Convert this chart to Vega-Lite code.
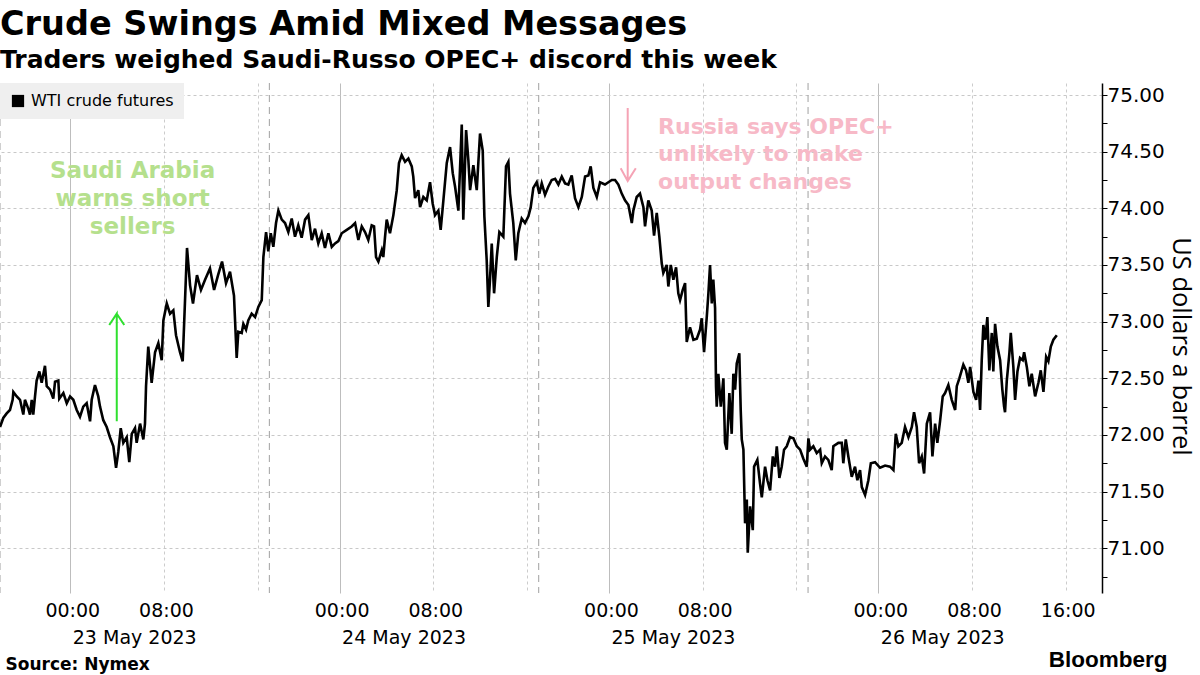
{
  "$schema": "https://vega.github.io/schema/vega-lite/v6.json",
  "width": 1102,
  "height": 510,
  "autosize": {"type": "none"},
  "padding": {"left": 0, "top": 83, "right": 98, "bottom": 82},
  "background": "#ffffff",
  "config": {"view": {"stroke": null}},
  "title": {
    "text": "Crude Swings Amid Mixed Messages",
    "subtitle": "Traders weighed Saudi-Russo OPEC+ discord this week",
    "anchor": "start", "frame": "group",
    "font": "DejaVu Sans", "fontSize": 33.5, "fontWeight": "bold", "color": "#000000",
    "subtitleFont": "DejaVu Sans", "subtitleFontSize": 25, "subtitleFontWeight": "bold", "subtitleColor": "#000000",
    "subtitlePadding": 5, "offset": 9
  },
  "datasets": {
    "wti": [
{"h":0,"p":72.07},{"h":0.28,"p":72.15},{"h":0.57,"p":72.19},{"h":0.85,"p":72.22},{"h":1.08,"p":72.31},{"h":1.14,"p":72.38},{"h":1.43,"p":72.34},{"h":1.71,"p":72.31},{"h":1.99,"p":72.18},{"h":2.13,"p":72.31},{"h":2.42,"p":72.23},{"h":2.56,"p":72.18},{"h":2.71,"p":72.31},{"h":2.84,"p":72.18},{"h":2.99,"p":72.34},{"h":3.13,"p":72.48},{"h":3.36,"p":72.56},{"h":3.56,"p":72.46},{"h":3.84,"p":72.61},{"h":3.99,"p":72.43},{"h":4.27,"p":72.40},{"h":4.55,"p":72.32},{"h":4.70,"p":72.47},{"h":4.98,"p":72.48},{"h":5.06,"p":72.32},{"h":5.41,"p":72.37},{"h":5.70,"p":72.28},{"h":5.98,"p":72.34},{"h":6.26,"p":72.31},{"h":6.55,"p":72.22},{"h":6.83,"p":72.16},{"h":7.11,"p":72.25},{"h":7.40,"p":72.28},{"h":7.69,"p":72.12},{"h":7.83,"p":72.31},{"h":8.11,"p":72.44},{"h":8.39,"p":72.34},{"h":8.54,"p":72.25},{"h":8.82,"p":72.13},{"h":9.11,"p":72.07},{"h":9.39,"p":71.98},{"h":9.68,"p":71.90},{"h":9.91,"p":71.71},{"h":10.10,"p":71.85},{"h":10.31,"p":72.06},{"h":10.53,"p":71.93},{"h":10.82,"p":71.98},{"h":11.04,"p":71.76},{"h":11.25,"p":72.01},{"h":11.53,"p":72.06},{"h":11.67,"p":71.93},{"h":11.96,"p":72.10},{"h":12.24,"p":71.96},{"h":12.38,"p":72.10},{"h":12.47,"p":72.43},{"h":12.66,"p":72.78},{"h":12.95,"p":72.46},{"h":13.24,"p":72.73},{"h":13.52,"p":72.81},{"h":13.81,"p":72.66},{"h":13.95,"p":73.01},{"h":14.24,"p":73.16},{"h":14.52,"p":73.07},{"h":14.80,"p":73.10},{"h":15.03,"p":72.88},{"h":15.37,"p":72.73},{"h":15.60,"p":72.65},{"h":15.80,"p":73.19},{"h":15.97,"p":73.65},{"h":16.23,"p":73.32},{"h":16.48,"p":73.16},{"h":16.82,"p":73.41},{"h":17.16,"p":73.28},{"h":17.51,"p":73.37},{"h":17.93,"p":73.47},{"h":18.28,"p":73.28},{"h":18.62,"p":73.41},{"h":18.96,"p":73.53},{"h":19.30,"p":73.34},{"h":19.64,"p":73.44},{"h":19.98,"p":73.23},{"h":20.21,"p":72.68},{"h":20.35,"p":72.91},{"h":20.64,"p":72.90},{"h":20.78,"p":72.98},{"h":21.01,"p":72.93},{"h":21.20,"p":73.01},{"h":21.49,"p":73.07},{"h":21.78,"p":73.04},{"h":22.06,"p":73.13},{"h":22.35,"p":73.19},{"h":22.49,"p":73.57},{"h":22.72,"p":73.79},{"h":22.91,"p":73.62},{"h":23.12,"p":73.78},{"h":23.34,"p":73.66},{"h":23.57,"p":73.87},{"h":23.77,"p":73.98},{"h":24.06,"p":73.90},{"h":24.34,"p":73.87},{"h":24.62,"p":73.79},{"h":24.91,"p":73.91},{"h":25.19,"p":73.75},{"h":25.47,"p":73.85},{"h":25.76,"p":73.74},{"h":26.05,"p":73.90},{"h":26.33,"p":73.94},{"h":26.62,"p":73.72},{"h":26.90,"p":73.82},{"h":27.18,"p":73.69},{"h":27.47,"p":73.78},{"h":27.75,"p":73.65},{"h":28.04,"p":73.78},{"h":28.33,"p":73.66},{"h":28.61,"p":73.69},{"h":28.89,"p":73.71},{"h":29.18,"p":73.78},{"h":29.61,"p":73.81},{"h":30.03,"p":73.84},{"h":30.32,"p":73.87},{"h":30.60,"p":73.72},{"h":30.89,"p":73.84},{"h":31.17,"p":73.79},{"h":31.45,"p":73.72},{"h":31.74,"p":73.85},{"h":31.94,"p":73.84},{"h":32.11,"p":73.57},{"h":32.31,"p":73.53},{"h":32.60,"p":73.63},{"h":32.73,"p":73.57},{"h":32.88,"p":73.75},{"h":33.02,"p":73.90},{"h":33.30,"p":73.78},{"h":33.59,"p":73.94},{"h":33.88,"p":74.16},{"h":34.07,"p":74.40},{"h":34.30,"p":74.47},{"h":34.59,"p":74.41},{"h":34.87,"p":74.44},{"h":35.16,"p":74.37},{"h":35.29,"p":74.28},{"h":35.44,"p":74.09},{"h":35.72,"p":74.16},{"h":35.87,"p":74.01},{"h":36.15,"p":74.10},{"h":36.44,"p":74.07},{"h":36.72,"p":74.23},{"h":36.95,"p":74.04},{"h":37.15,"p":73.94},{"h":37.43,"p":73.98},{"h":37.63,"p":73.81},{"h":37.86,"p":74.07},{"h":38.15,"p":74.40},{"h":38.43,"p":74.54},{"h":38.66,"p":74.31},{"h":38.86,"p":74.19},{"h":39.14,"p":73.98},{"h":39.43,"p":74.74},{"h":39.56,"p":73.90},{"h":39.80,"p":74.69},{"h":39.99,"p":74.43},{"h":40.14,"p":74.16},{"h":40.42,"p":74.38},{"h":40.71,"p":74.16},{"h":40.99,"p":74.66},{"h":41.22,"p":74.51},{"h":41.36,"p":73.93},{"h":41.56,"p":73.54},{"h":41.70,"p":73.13},{"h":41.84,"p":73.37},{"h":41.99,"p":73.69},{"h":42.19,"p":73.25},{"h":42.42,"p":73.57},{"h":42.64,"p":73.79},{"h":42.98,"p":73.75},{"h":43.21,"p":74.37},{"h":43.41,"p":74.41},{"h":43.55,"p":74.13},{"h":43.83,"p":73.87},{"h":44.04,"p":73.54},{"h":44.26,"p":73.78},{"h":44.55,"p":73.91},{"h":44.83,"p":73.87},{"h":45.12,"p":73.93},{"h":45.32,"p":74.01},{"h":45.54,"p":74.18},{"h":45.83,"p":74.23},{"h":46.05,"p":74.13},{"h":46.26,"p":74.22},{"h":46.54,"p":74.12},{"h":46.82,"p":74.19},{"h":47.11,"p":74.25},{"h":47.40,"p":74.26},{"h":47.68,"p":74.21},{"h":47.97,"p":74.28},{"h":48.25,"p":74.22},{"h":48.53,"p":74.21},{"h":48.82,"p":74.29},{"h":49.10,"p":74.09},{"h":49.39,"p":74.01},{"h":49.68,"p":74.10},{"h":49.96,"p":74.28},{"h":50.24,"p":74.29},{"h":50.44,"p":74.37},{"h":50.67,"p":74.18},{"h":50.96,"p":74.10},{"h":51.24,"p":74.23},{"h":51.66,"p":74.21},{"h":51.95,"p":74.23},{"h":52.24,"p":74.25},{"h":52.52,"p":74.25},{"h":52.80,"p":74.21},{"h":53.09,"p":74.13},{"h":53.37,"p":74.07},{"h":53.66,"p":74.03},{"h":53.95,"p":73.87},{"h":54.08,"p":73.98},{"h":54.37,"p":74.10},{"h":54.65,"p":74.13},{"h":54.94,"p":74.01},{"h":55.08,"p":73.84},{"h":55.36,"p":74.07},{"h":55.65,"p":73.98},{"h":55.85,"p":73.76},{"h":56.08,"p":73.96},{"h":56.30,"p":73.75},{"h":56.51,"p":73.51},{"h":56.64,"p":73.43},{"h":56.93,"p":73.50},{"h":57.07,"p":73.31},{"h":57.28,"p":73.50},{"h":57.50,"p":73.37},{"h":57.73,"p":73.48},{"h":57.92,"p":73.25},{"h":58.07,"p":73.19},{"h":58.30,"p":73.28},{"h":58.50,"p":73.34},{"h":58.64,"p":72.82},{"h":58.92,"p":72.95},{"h":59.21,"p":72.84},{"h":59.50,"p":72.85},{"h":59.78,"p":72.93},{"h":59.92,"p":73.03},{"h":60.12,"p":72.73},{"h":60.35,"p":73.04},{"h":60.49,"p":73.25},{"h":60.63,"p":73.50},{"h":60.78,"p":73.16},{"h":60.91,"p":73.37},{"h":61.06,"p":73.12},{"h":61.14,"p":72.43},{"h":61.20,"p":72.25},{"h":61.34,"p":72.54},{"h":61.55,"p":72.25},{"h":61.77,"p":72.50},{"h":61.91,"p":71.93},{"h":62.06,"p":71.87},{"h":62.28,"p":72.37},{"h":62.48,"p":72.01},{"h":62.62,"p":72.54},{"h":62.77,"p":72.40},{"h":62.91,"p":72.63},{"h":63.13,"p":72.72},{"h":63.25,"p":72.22},{"h":63.34,"p":71.96},{"h":63.48,"p":71.87},{"h":63.62,"p":71.22},{"h":63.77,"p":71.43},{"h":63.85,"p":70.96},{"h":64.05,"p":71.37},{"h":64.28,"p":71.16},{"h":64.39,"p":71.72},{"h":64.67,"p":71.78},{"h":64.90,"p":71.57},{"h":65.05,"p":71.45},{"h":65.33,"p":71.72},{"h":65.53,"p":71.60},{"h":65.76,"p":71.51},{"h":65.99,"p":71.81},{"h":66.18,"p":71.72},{"h":66.33,"p":71.90},{"h":66.55,"p":71.62},{"h":66.75,"p":71.72},{"h":66.95,"p":71.87},{"h":67.18,"p":71.90},{"h":67.46,"p":71.98},{"h":67.75,"p":71.97},{"h":68.04,"p":71.90},{"h":68.32,"p":71.87},{"h":68.60,"p":71.79},{"h":68.89,"p":71.72},{"h":69.03,"p":71.97},{"h":69.17,"p":71.87},{"h":69.45,"p":71.90},{"h":69.74,"p":71.84},{"h":70.03,"p":71.87},{"h":70.17,"p":71.75},{"h":70.45,"p":71.81},{"h":70.73,"p":71.78},{"h":71.02,"p":71.69},{"h":71.16,"p":71.90},{"h":71.59,"p":71.93},{"h":71.88,"p":71.93},{"h":72.01,"p":71.75},{"h":72.22,"p":71.96},{"h":72.44,"p":71.81},{"h":72.73,"p":71.63},{"h":73.01,"p":71.72},{"h":73.21,"p":71.60},{"h":73.44,"p":71.69},{"h":73.59,"p":71.54},{"h":73.87,"p":71.47},{"h":74.15,"p":71.60},{"h":74.36,"p":71.75},{"h":74.72,"p":71.76},{"h":75.15,"p":71.71},{"h":75.58,"p":71.73},{"h":76.00,"p":71.72},{"h":76.29,"p":71.69},{"h":76.49,"p":72.01},{"h":76.71,"p":71.90},{"h":77.00,"p":71.93},{"h":77.28,"p":72.07},{"h":77.57,"p":71.98},{"h":77.86,"p":72.07},{"h":78.05,"p":72.20},{"h":78.28,"p":72.07},{"h":78.48,"p":71.75},{"h":78.71,"p":71.81},{"h":78.91,"p":71.66},{"h":79.14,"p":72.10},{"h":79.42,"p":72.20},{"h":79.62,"p":71.81},{"h":79.85,"p":72.10},{"h":80.04,"p":71.93},{"h":80.27,"p":72.12},{"h":80.50,"p":72.34},{"h":80.70,"p":72.37},{"h":80.98,"p":72.44},{"h":81.27,"p":72.31},{"h":81.56,"p":72.22},{"h":81.70,"p":72.43},{"h":81.92,"p":72.50},{"h":82.26,"p":72.62},{"h":82.49,"p":72.57},{"h":82.69,"p":72.46},{"h":82.84,"p":72.60},{"h":83.12,"p":72.38},{"h":83.35,"p":72.31},{"h":83.55,"p":72.48},{"h":83.69,"p":72.22},{"h":83.83,"p":72.66},{"h":83.97,"p":72.97},{"h":84.14,"p":72.84},{"h":84.31,"p":73.04},{"h":84.48,"p":72.57},{"h":84.69,"p":72.90},{"h":84.82,"p":72.56},{"h":84.97,"p":72.98},{"h":85.17,"p":72.78},{"h":85.40,"p":72.66},{"h":85.59,"p":72.40},{"h":85.74,"p":72.25},{"h":85.82,"p":72.20},{"h":85.97,"p":72.48},{"h":86.19,"p":72.72},{"h":86.31,"p":72.90},{"h":86.53,"p":72.60},{"h":86.68,"p":72.31},{"h":86.88,"p":72.56},{"h":87.10,"p":72.68},{"h":87.33,"p":72.66},{"h":87.45,"p":72.73},{"h":87.68,"p":72.60},{"h":87.90,"p":72.43},{"h":88.10,"p":72.54},{"h":88.39,"p":72.34},{"h":88.67,"p":72.46},{"h":88.87,"p":72.57},{"h":89.10,"p":72.38},{"h":89.33,"p":72.69},{"h":89.52,"p":72.65},{"h":89.73,"p":72.78},{"h":89.95,"p":72.84},{"h":90.24,"p":72.88}
    ],
    "breaks": [{"h": 0}, {"h": 23}, {"h": 46}, {"h": 69}],
    "garrow": [{"o":0,"h":9.97,"p":72.12},{"o":1,"h":9.97,"p":73.07},{"o":2,"h":9.33,"p":72.97},{"o":3,"h":9.97,"p":73.07},{"o":4,"h":10.61,"p":72.97}],
    "parrow": [{"o":0,"h":53.60,"p":74.885},{"o":1,"h":53.60,"p":74.24},{"o":2,"h":53.00,"p":74.353},{"o":3,"h":53.60,"p":74.24},{"o":4,"h":54.29,"p":74.353}],
    "gnote": [{"h": 11.32, "p": 74.27, "t": "Saudi Arabia\nwarns short\nsellers"}],
    "pnote": [{"h": 56.19, "p": 74.66, "t": "Russia says OPEC+\nunlikely to make\noutput changes"}]
  },
  "resolve": {"axis": {"x": "independent", "y": "independent"}},
  "layer": [
    {
      "data": {"name": "breaks"},
      "mark": {"type": "rule", "color": "#a0a0a0", "strokeDash": [7, 5], "strokeWidth": 1},
      "encoding": {
        "x": {
          "field": "h", "type": "quantitative",
          "scale": {"domain": [0, 94.1], "nice": false, "zero": false},
          "axis": {
            "orient": "bottom", "values": [6, 29, 52, 75],
            "labelExpr": "datum.value == 6 ? '23 May 2023' : datum.value == 29 ? '24 May 2023' : datum.value == 52 ? '25 May 2023' : '26 May 2023'",
            "grid": false, "domain": false, "ticks": false, "tickSize": 0,
            "labelAlign": "left", "labelBaseline": "alphabetic", "labelPadding": 50, "labelOffset": 2,
            "labelFont": "DejaVu Sans", "labelFontSize": 19, "labelColor": "#000000",
            "labelOverlap": false, "labelFlush": false, "labelBound": false,
            "title": "Source: Nymex", "titleFont": "DejaVu Sans", "titleFontSize": 17, "titleFontWeight": "bold",
            "titleColor": "#000000", "titleX": 5, "titleY": 76, "titleAlign": "left", "titleBaseline": "alphabetic", "titleAnchor": "start"
          }
        }
      }
    },
    {
      "data": {"name": "wti"},
      "mark": {"type": "line", "strokeWidth": 2.6, "interpolate": "linear", "strokeJoin": "miter"},
      "encoding": {
        "x": {
          "field": "h", "type": "quantitative",
          "scale": {"domain": [0, 94.1], "nice": false, "zero": false},
          "axis": {
            "orient": "bottom", "values": [6, 14, 22, 29, 37, 45, 52, 60, 68, 75, 83, 91],
            "labelExpr": "indexof([6,29,52,75], datum.value) >= 0 ? '00:00' : indexof([14,37,60,83], datum.value) >= 0 ? '08:00' : datum.value == 91 ? '16:00' : ''",
            "grid": true,
            "gridColor": {"condition": {"test": "indexof([6,29,52,75], datum.value) >= 0", "value": "#bdbdbd"}, "value": "#cccccc"},
            "gridDash": {"condition": {"test": "indexof([6,29,52,75], datum.value) >= 0", "value": []}, "value": [3, 3]},
            "gridWidth": 1,
            "domain": false, "ticks": false, "tickSize": 0,
            "labelFont": "DejaVu Sans", "labelFontSize": 19, "labelColor": "#000000",
            "labelBaseline": "alphabetic", "labelPadding": 23, "labelOffset": 2,
            "labelOverlap": false, "labelFlush": false, "labelBound": false,
            "title": "Bloomberg", "titleFont": "Liberation Sans", "titleFontSize": 22.5, "titleFontWeight": "bold",
            "titleColor": "#000000", "titleX": 1167, "titleY": 73, "titleAlign": "right", "titleBaseline": "alphabetic", "titleAnchor": "end"
          }
        },
        "y": {
          "field": "p", "type": "quantitative",
          "scale": {"domain": [70.605, 75.106], "nice": false, "zero": false},
          "axis": {
            "orient": "right",
            "values": [71, 71.5, 72, 72.5, 73, 73.5, 74, 74.5, 75],
            "format": ".2f",
            "grid": true, "gridColor": "#c8c8c8", "gridDash": [3, 3],
            "domain": true, "domainColor": "#000000", "domainWidth": 1.5,
            "ticks": true, "tickColor": "#000000", "tickSize": 5, "tickWidth": 1,
            "labelFont": "DejaVu Sans", "labelFontSize": 20, "labelColor": "#000000", "labelPadding": 0, "labelBaseline": "middle",
            "labelOverlap": false, "labelBound": false, "labelFlush": false,
            "title": "US dollars a barrel", "titleFont": "Open Sans", "titleFontSize": 25.5, "titleFontWeight": "normal",
            "titleColor": "#000000", "titleAngle": 90, "titleX": 78, "titleY": 263, "titleAlign": "center", "titleBaseline": "middle"
          }
        },
        "color": {
          "datum": "WTI crude futures", "type": "nominal",
          "scale": {"range": ["#000000"]},
          "legend": {
            "title": null, "orient": "none", "legendX": 0, "legendY": 0,
            "fillColor": "#efefef", "padding": 10,
            "symbolType": "square", "symbolSize": 150, "symbolFillColor": "#000000", "symbolStrokeColor": "#000000", "symbolStrokeWidth": 0,
            "labelFont": "DejaVu Sans", "labelFontSize": 16, "labelColor": "#000000", "labelOffset": 5, "labelLimit": 300
          }
        }
      }
    },
    {
      "data": {"name": "garrow"},
      "mark": {"type": "line", "color": "#2fe02f", "strokeWidth": 2},
      "encoding": {
        "x": {"field": "h", "type": "quantitative", "scale": {"domain": [0, 94.1], "nice": false, "zero": false}, "axis": null},
        "y": {
          "field": "p", "type": "quantitative", "scale": {"domain": [70.605, 75.106], "nice": false, "zero": false},
          "axis": {
            "orient": "right", "values": [70.75, 71.25, 71.75, 72.25, 72.75, 73.25, 73.75, 74.25, 74.75],
            "labels": false, "grid": false, "domain": false, "title": null,
            "ticks": true, "tickColor": "#000000", "tickSize": 5, "tickWidth": 1
          }
        },
        "order": {"field": "o", "type": "quantitative"}
      }
    },
    {
      "data": {"name": "parrow"},
      "mark": {"type": "line", "color": "#f5a3b5", "strokeWidth": 2},
      "encoding": {
        "x": {"field": "h", "type": "quantitative", "scale": {"domain": [0, 94.1], "nice": false, "zero": false}, "axis": null},
        "y": {"field": "p", "type": "quantitative", "scale": {"domain": [70.605, 75.106], "nice": false, "zero": false}, "axis": null},
        "order": {"field": "o", "type": "quantitative"}
      }
    },
    {
      "data": {"name": "gnote"},
      "mark": {"type": "text", "color": "#b5e08d", "font": "DejaVu Sans", "fontSize": 23, "fontWeight": "bold", "align": "center", "baseline": "alphabetic", "lineBreak": "\n", "lineHeight": 28},
      "encoding": {
        "x": {"field": "h", "type": "quantitative", "scale": {"domain": [0, 94.1], "nice": false, "zero": false}, "axis": null},
        "y": {"field": "p", "type": "quantitative", "scale": {"domain": [70.605, 75.106], "nice": false, "zero": false}, "axis": null},
        "text": {"field": "t", "type": "nominal"}
      }
    },
    {
      "data": {"name": "pnote"},
      "mark": {"type": "text", "color": "#f7b9c7", "font": "DejaVu Sans", "fontSize": 22, "fontWeight": "bold", "align": "left", "baseline": "alphabetic", "lineBreak": "\n", "lineHeight": 27.5},
      "encoding": {
        "x": {"field": "h", "type": "quantitative", "scale": {"domain": [0, 94.1], "nice": false, "zero": false}, "axis": null},
        "y": {"field": "p", "type": "quantitative", "scale": {"domain": [70.605, 75.106], "nice": false, "zero": false}, "axis": null},
        "text": {"field": "t", "type": "nominal"}
      }
    }
  ]
}
